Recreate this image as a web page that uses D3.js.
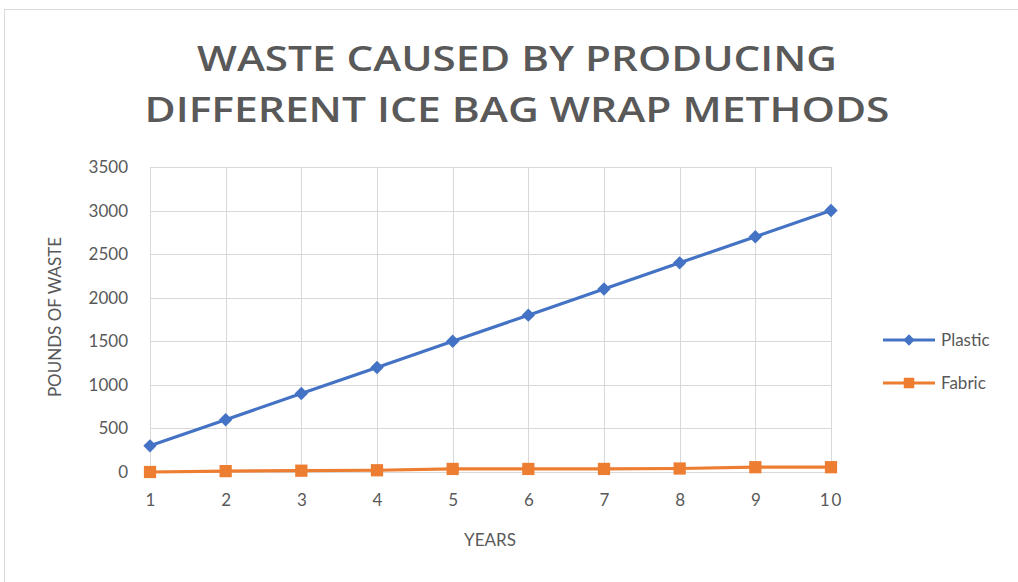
<!DOCTYPE html>
<html>
<head>
<meta charset="utf-8">
<script src="https://cdn.jsdelivr.net/npm/d3@7"></script>
<style>
  html, body { margin: 0; padding: 0; background: #fff; }
  svg { display: block; }
</style>
</head>
<body>
<svg id="chart" width="1018" height="582"></svg>
<script>
// Chart data
const years = [1, 2, 3, 4, 5, 6, 7, 8, 9, 10];
const plastic = [300, 600, 900, 1200, 1500, 1800, 2100, 2400, 2700, 3000];
const fabric = [0, 10, 15, 20, 35, 35, 35, 40, 55, 55];
const yTicks = [0, 500, 1000, 1500, 2000, 2500, 3000, 3500];
const seriesNames = ["Plastic", "Fabric"];
const titleLines = ["WASTE CAUSED BY PRODUCING", "DIFFERENT ICE BAG WRAP METHODS"];

const svg = d3.select("#chart");
const W = 1018, H = 582;
const textColor = "#595959";
const gridColor = "#d9d9d9";
const colors = { Plastic: "#4472C4", Fabric: "#ED7D31" };
const font = "Lato, 'Open Sans', sans-serif";

// chart frame
svg.append("rect")
  .attr("x", 4.5).attr("y", 9.5)
  .attr("width", W).attr("height", H)
  .attr("fill", "#fff").attr("stroke", "#d9d9d9").attr("stroke-width", 1);

// title
const titleWidths = [640, 745];
titleLines.forEach((t, i) => {
  svg.append("text")
    .attr("x", 517).attr("y", 71 + i * 51)
    .attr("text-anchor", "middle")
    .attr("font-family", "'Open Sans', sans-serif")
    .attr("font-weight", 600)
    .attr("font-size", 35)
    .attr("fill", textColor)
    .attr("textLength", titleWidths[i])
    .attr("lengthAdjust", "spacingAndGlyphs")
    .text(t);
});

// scales
const x = d3.scaleLinear().domain([1, 10]).range([150, 831]);
const y = d3.scaleLinear().domain([0, 3500]).range([472, 167]);

// gridlines
svg.append("g").selectAll("line.h")
  .data(yTicks).join("line")
  .attr("x1", x(1)).attr("x2", x(10))
  .attr("y1", d => Math.round(y(d)) + 0.5).attr("y2", d => Math.round(y(d)) + 0.5)
  .attr("stroke", gridColor).attr("stroke-width", 1);
svg.append("g").selectAll("line.v")
  .data(years).join("line")
  .attr("x1", d => Math.round(x(d)) + 0.5).attr("x2", d => Math.round(x(d)) + 0.5)
  .attr("y1", y(3500)).attr("y2", y(0))
  .attr("stroke", gridColor).attr("stroke-width", 1);

// y axis labels
const yAxis = d3.axisLeft(y).tickValues(yTicks).tickFormat(d3.format("d")).tickSize(0).tickPadding(22);
const yg = svg.append("g").attr("transform", `translate(${x(1)},0)`).call(yAxis);
yg.select(".domain").remove();
yg.selectAll("text").attr("font-family", font).attr("font-size", 17).attr("fill", textColor);

// x axis labels
const xAxis = d3.axisBottom(x).tickValues(years).tickFormat(d3.format("d")).tickSize(0).tickPadding(22);
const xg = svg.append("g").attr("transform", `translate(0,${y(0)})`).call(xAxis);
xg.select(".domain").remove();
xg.selectAll("text").attr("font-family", font).attr("font-size", 17).attr("fill", textColor)
  .attr("letter-spacing", d => d === 10 ? 2 : 0);

// axis titles
svg.append("text")
  .attr("x", 490).attr("y", 546)
  .attr("text-anchor", "middle")
  .attr("font-family", font).attr("font-size", 17).attr("fill", textColor)
  .text("YEARS");
svg.append("text")
  .attr("transform", "translate(61,317) rotate(-90)")
  .attr("text-anchor", "middle")
  .attr("font-family", font).attr("font-size", 17).attr("fill", textColor)
  .text("POUNDS OF WASTE");

// series
const line = d3.line().x((d, i) => x(years[i])).y(d => y(d));
const seriesData = { Plastic: plastic, Fabric: fabric };
// diamond = square turned 45 degrees
const markerPath = (name, s) => d3.symbol().type(d3.symbolSquare).size(s)();
const markerRot = name => name === "Plastic" ? " rotate(45)" : "";

["Fabric", "Plastic"].forEach(name => {
  const vals = seriesData[name];
  svg.append("path")
    .datum(vals)
    .attr("d", line)
    .attr("fill", "none")
    .attr("stroke", colors[name])
    .attr("stroke-width", 3.2)
    .attr("stroke-linejoin", "round");
  svg.append("g").selectAll("path")
    .data(vals).join("path")
    .attr("transform", (d, i) => `translate(${x(years[i])},${y(d)})${markerRot(name)}`)
    .attr("d", markerPath(name, name === "Plastic" ? 90 : 150))
    .attr("fill", colors[name]);
});

// legend
seriesNames.forEach((name, i) => {
  const ly = 340 + i * 43;
  const g = svg.append("g");
  g.append("line")
    .attr("x1", 883).attr("x2", 935).attr("y1", ly).attr("y2", ly)
    .attr("stroke", colors[name]).attr("stroke-width", 3);
  g.append("path")
    .attr("transform", `translate(909,${ly})${markerRot(name)}`)
    .attr("d", markerPath(name, name === "Plastic" ? 64 : 110))
    .attr("fill", colors[name]);
  g.append("text")
    .attr("x", 941).attr("y", ly + 6)
    .attr("font-family", font).attr("font-size", 17).attr("fill", textColor)
    .text(name);
});
</script>
</body>
</html>
